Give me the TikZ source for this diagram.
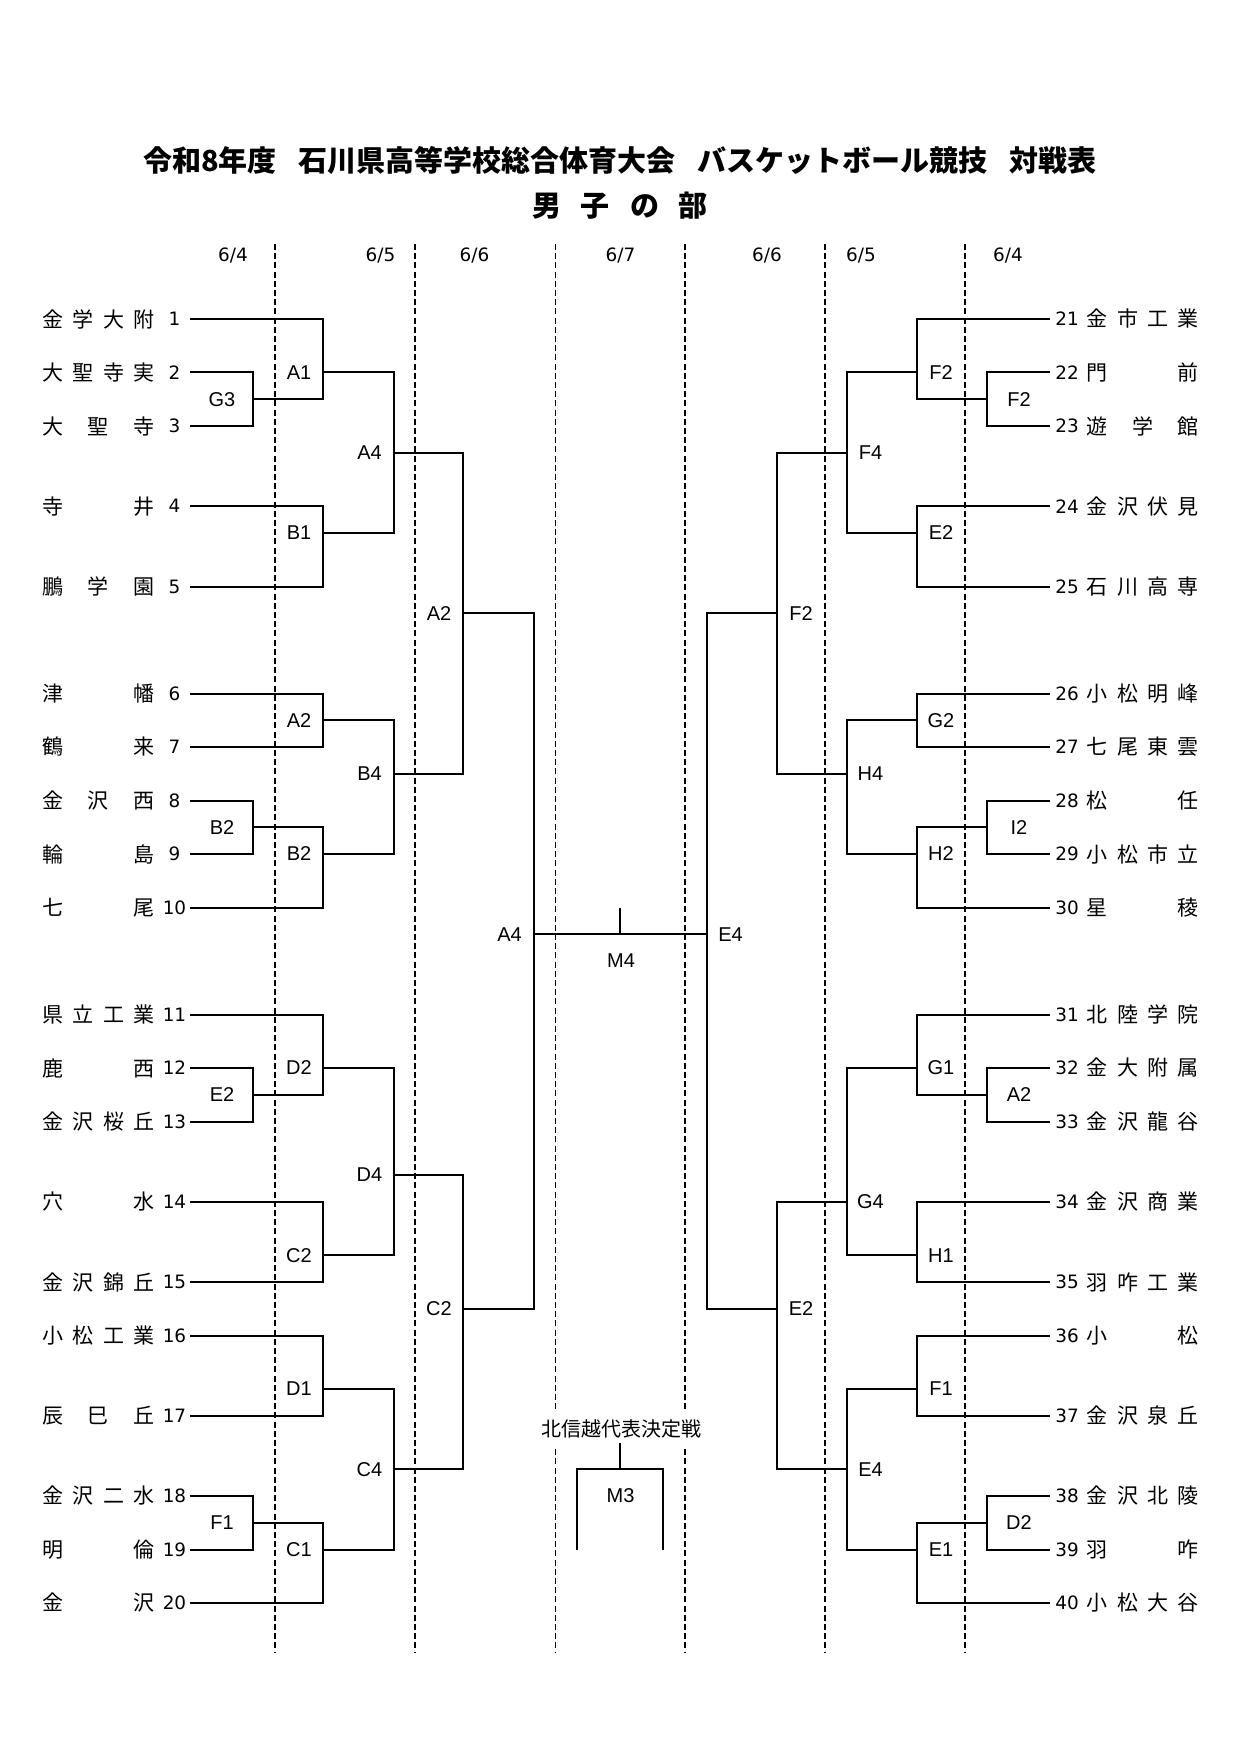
\documentclass[tikz,border=0pt]{standalone}
\usepackage{fontspec}
\newfontfamily\jpfnt{Noto Sans CJK JP}
\newfontfamily\labfnt{Liberation Sans}
\newfontfamily\numfnt{DejaVu Sans}
\newcommand\RY[1]{319+53.5*(#1)}
\newcommand\teamL[3]{%
  \coordinate (p#1) at (190,{\RY{#2}});
  \node[num] (t#1) at (174.5,{\RY{#2}}) {#1};
  \node[nm,anchor=west] (n#1) at (42,{\RY{#2}}) {\makebox[56pt][s]{#3}};
}
\newcommand\teamR[3]{%
  \coordinate (q#1) at (1050,{\RY{#2}});
  \node[num] (t#1) at (1067,{\RY{#2}}) {#1};
  \node[nm,anchor=west] (n#1) at (1086.5,{\RY{#2}}) {\makebox[56pt][s]{#3}};
}
\newcommand\mt[7]{%
  \coordinate (m#1) at (#2,{\RY{#3}});
  \draw[ln] (#4) -| (m#1) |- (#5);
  \node[lab] (l#1) at ([xshift=#7]m#1) {#6};
}
\tikzset{
  ln/.style={line width=1pt},
  dline/.style={line width=0.6pt, dash pattern=on 3pt off 1.6pt},
  nm/.style={inner sep=0pt, font=\jpfnt\fontsize{10.5pt}{12pt}\selectfont},
  num/.style={inner sep=0pt, font=\numfnt\fontsize{9.2pt}{11pt}\selectfont},
  lab/.style={inner sep=0pt, font=\labfnt\fontsize{10pt}{12pt}\selectfont},
  ttl/.style={inner sep=0pt, font=\jpfnt\bfseries\fontsize{14.5pt}{17pt}\selectfont},
  hkstyle/.style={fill=white, inner xsep=1pt, inner ysep=4pt, font=\jpfnt\fontsize{10pt}{12pt}\selectfont}
}
\begin{document}
\begin{tikzpicture}[x=0.5pt,y=-0.5pt]
\fill[white] (0,0) rectangle (1240,1754);
\useasboundingbox (0,0) rectangle (1240,1754);

% title
\node[ttl] (title) at (620,160) {令和8年度\hspace{11pt}石川県高等学校総合体育大会\hspace{11pt}バスケットボール競技\hspace{11pt}対戦表};
\node[ttl] (subtitle) at (620,206) {男\hspace{10pt}子\hspace{10pt}の\hspace{10pt}部};

% dashed day separators
\foreach \x [count=\i] in {275,415,555.5,685,825,965} {
  \coordinate (dt\i) at (\x,244);
  \coordinate (db\i) at (\x,1652);
  \draw[dline] (dt\i) -- (db\i);
}

% dates
\node[num] (d1) at (233,256) {6/4};
\node[num] (d2) at (380.5,256) {6/5};
\node[num] (d3) at (474.5,256) {6/6};
\node[num] (d4) at (620.5,256) {6/7};
\node[num] (d5) at (767,256) {6/6};
\node[num] (d6) at (861,256) {6/5};
\node[num] (d7) at (1008,256) {6/4};

% left teams
\teamL{1}{0}{金\hfil 学\hfil 大\hfil 附}
\teamL{2}{1}{大\hfil 聖\hfil 寺\hfil 実}
\teamL{3}{2}{大\hfil 聖\hfil 寺}
\teamL{4}{3.5}{寺\hfil 井}
\teamL{5}{5}{鵬\hfil 学\hfil 園}
\teamL{6}{7}{津\hfil 幡}
\teamL{7}{8}{鶴\hfil 来}
\teamL{8}{9}{金\hfil 沢\hfil 西}
\teamL{9}{10}{輪\hfil 島}
\teamL{10}{11}{七\hfil 尾}
\teamL{11}{13}{県\hfil 立\hfil 工\hfil 業}
\teamL{12}{14}{鹿\hfil 西}
\teamL{13}{15}{金\hfil 沢\hfil 桜\hfil 丘}
\teamL{14}{16.5}{穴\hfil 水}
\teamL{15}{18}{金\hfil 沢\hfil 錦\hfil 丘}
\teamL{16}{19}{小\hfil 松\hfil 工\hfil 業}
\teamL{17}{20.5}{辰\hfil 巳\hfil 丘}
\teamL{18}{22}{金\hfil 沢\hfil 二\hfil 水}
\teamL{19}{23}{明\hfil 倫}
\teamL{20}{24}{金\hfil 沢}

% right teams
\teamR{21}{0}{金\hfil 市\hfil 工\hfil 業}
\teamR{22}{1}{門\hfil 前}
\teamR{23}{2}{遊\hfil 学\hfil 館}
\teamR{24}{3.5}{金\hfil 沢\hfil 伏\hfil 見}
\teamR{25}{5}{石\hfil 川\hfil 高\hfil 専}
\teamR{26}{7}{小\hfil 松\hfil 明\hfil 峰}
\teamR{27}{8}{七\hfil 尾\hfil 東\hfil 雲}
\teamR{28}{9}{松\hfil 任}
\teamR{29}{10}{小\hfil 松\hfil 市\hfil 立}
\teamR{30}{11}{星\hfil 稜}
\teamR{31}{13}{北\hfil 陸\hfil 学\hfil 院}
\teamR{32}{14}{金\hfil 大\hfil 附\hfil 属}
\teamR{33}{15}{金\hfil 沢\hfil 龍\hfil 谷}
\teamR{34}{16.5}{金\hfil 沢\hfil 商\hfil 業}
\teamR{35}{18}{羽\hfil 咋\hfil 工\hfil 業}
\teamR{36}{19}{小\hfil 松}
\teamR{37}{20.5}{金\hfil 沢\hfil 泉\hfil 丘}
\teamR{38}{22}{金\hfil 沢\hfil 北\hfil 陵}
\teamR{39}{23}{羽\hfil 咋}
\teamR{40}{24}{小\hfil 松\hfil 大\hfil 谷}

% left bracket
\mt{G3}{253}{1.5}{p2}{p3}{G3}{-15.5pt}
\mt{A1}{323}{1}{p1}{mG3}{A1}{-12pt}
\mt{B1}{323}{4}{p4}{p5}{B1}{-12pt}
\mt{A4a}{393.5}{2.5}{mA1}{mB1}{A4}{-12pt}
\mt{A2a}{323}{7.5}{p6}{p7}{A2}{-12pt}
\mt{B2a}{253}{9.5}{p8}{p9}{B2}{-15.5pt}
\mt{B2b}{323}{10}{mB2a}{p10}{B2}{-12pt}
\mt{B4}{393.5}{8.5}{mA2a}{mB2b}{B4}{-12pt}
\mt{A2b}{463}{5.5}{mA4a}{mB4}{A2}{-12pt}
\mt{E2l}{253}{14.5}{p12}{p13}{E2}{-15.5pt}
\mt{D2l}{323}{14}{p11}{mE2l}{D2}{-12pt}
\mt{C2a}{323}{17.5}{p14}{p15}{C2}{-12pt}
\mt{D4}{393.5}{16}{mD2l}{mC2a}{D4}{-12pt}
\mt{D1}{323}{20}{p16}{p17}{D1}{-12pt}
\mt{F1l}{253}{22.5}{p18}{p19}{F1}{-15.5pt}
\mt{C1}{323}{23}{mF1l}{p20}{C1}{-12pt}
\mt{C4}{393.5}{21.5}{mD1}{mC1}{C4}{-12pt}
\mt{C2b}{463}{18.5}{mD4}{mC4}{C2}{-12pt}
\mt{A4f}{533.5}{11.5}{mA2b}{mC2b}{A4}{-12pt}

% right bracket
\mt{F2a}{987}{1.5}{q22}{q23}{F2}{16pt}
\mt{F2b}{917}{1}{q21}{mF2a}{F2}{12pt}
\mt{E2a}{917}{4}{q24}{q25}{E2}{12pt}
\mt{F4}{846.5}{2.5}{mF2b}{mE2a}{F4}{12pt}
\mt{G2}{917}{7.5}{q26}{q27}{G2}{12pt}
\mt{I2}{987}{9.5}{q28}{q29}{I2}{16pt}
\mt{H2}{917}{10}{mI2}{q30}{H2}{12pt}
\mt{H4}{846.5}{8.5}{mG2}{mH2}{H4}{12pt}
\mt{F2c}{777}{5.5}{mF4}{mH4}{F2}{12pt}
\mt{A2r}{987}{14.5}{q32}{q33}{A2}{16pt}
\mt{G1}{917}{14}{q31}{mA2r}{G1}{12pt}
\mt{H1}{917}{17.5}{q34}{q35}{H1}{12pt}
\mt{G4}{846.5}{16.5}{mG1}{mH1}{G4}{12pt}
\mt{F1r}{917}{20}{q36}{q37}{F1}{12pt}
\mt{D2r}{987}{22.5}{q38}{q39}{D2}{16pt}
\mt{E1}{917}{23}{mD2r}{q40}{E1}{12pt}
\mt{E4a}{846.5}{21.5}{mF1r}{mE1}{E4}{12pt}
\mt{E2b}{777}{18.5}{mG4}{mE4a}{E2}{12pt}
\mt{E4f}{706.5}{11.5}{mF2c}{mE2b}{E4}{12pt}

% final M4
\draw[ln] (mA4f) -- (mE4f);
\coordinate (m4T) at (620,907.5);
\coordinate (m4J) at (620,{\RY{11.5}});
\draw[ln] (m4T) -- (m4J);
\node[lab] (lM4) at (621,961) {M4};

% M3 (Hokushinetsu representative decider)
\node[hkstyle] (hk) at (621,1429) {北信越代表決定戦};
\coordinate (m3T) at (620,1443.3);
\coordinate (m3J) at (620,{\RY{21.5}});
\coordinate (m3L) at (577.3,{\RY{23}});
\coordinate (m3R) at (663,{\RY{23}});
\draw[ln] (m3L) |- (m3J) -| (m3R);
\draw[ln] (m3T) -- (m3J);
\node[lab] (lM3) at (620.5,1496) {M3};
\end{tikzpicture}
\end{document}
